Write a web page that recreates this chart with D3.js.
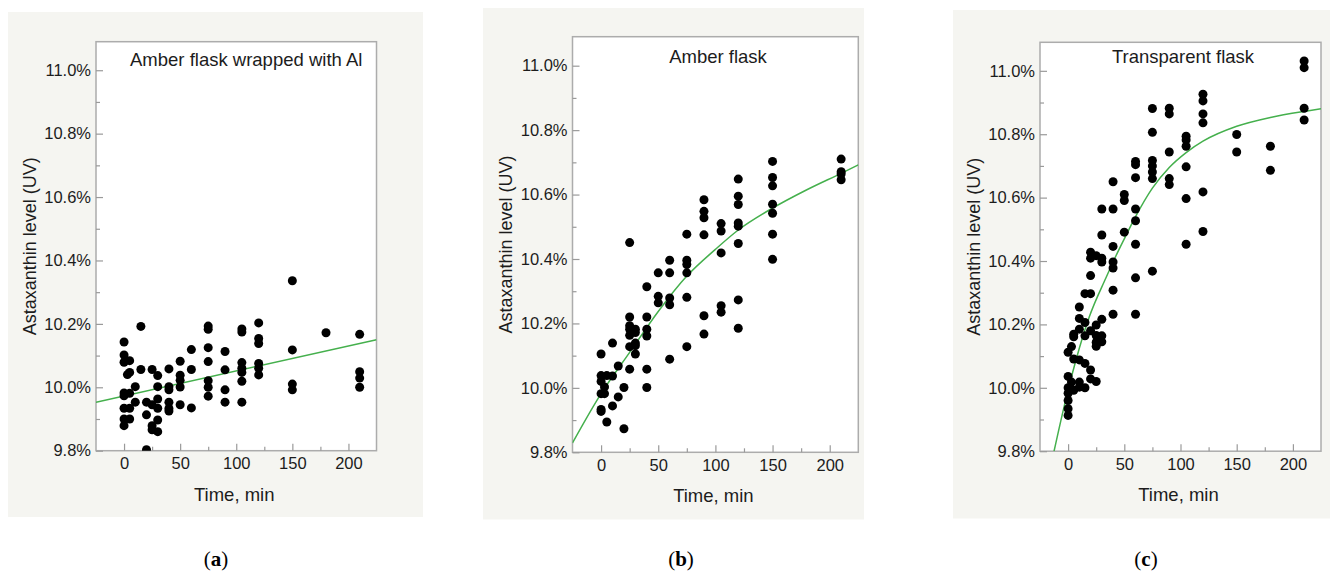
<!DOCTYPE html>
<html><head><meta charset="utf-8">
<script src="https://cdn.jsdelivr.net/npm/d3@7"></script>
<style>
body{margin:0;background:#fff}
svg{display:block}
text{font-family:"Liberation Sans",Arial,Helvetica,sans-serif}
</style>
</head><body>
<svg id="chart" width="1330" height="572"></svg>
<script>
// ---------- data ----------
const xTicks = [0, 50, 100, 150, 200];
const xMinorTicks = [25, 75, 125, 175];
const yTicks = [9.8, 10.0, 10.2, 10.4, 10.6, 10.8, 11.0];
const yMinorTicks = [9.9, 10.1, 10.3, 10.5, 10.7, 10.9];
const titles = ["Amber flask wrapped with Al", "Amber flask", "Transparent flask"];
const panelLetters = ["a", "b", "c"];
const xLabel = "Time, min";
const yLabel = "Astaxanthin level (UV)";

// [time (min), measured values (%)]
const dataA = [
  [0, [10.143, 10.102, 10.079, 9.982, 9.973, 9.934, 9.900, 9.879]],
  [3, [10.040]],
  [5, [10.084, 10.047, 9.981, 9.934, 9.900]],
  [10, [10.002, 9.953]],
  [15, [10.192, 10.056]],
  [20, [9.953, 9.913, 9.803]],
  [25, [10.056, 9.945, 9.879, 9.866]],
  [30, [10.037, 10.002, 9.963, 9.934, 9.897, 9.860]],
  [40, [10.058, 10.002, 9.992, 9.953, 9.933, 9.925]],
  [50, [10.082, 10.038, 10.022, 10.001, 9.945]],
  [60, [10.119, 10.056, 9.935]],
  [75, [10.193, 10.183, 10.125, 10.081, 10.021, 10.000, 9.972]],
  [90, [10.113, 10.055, 9.992, 9.953]],
  [105, [10.184, 10.174, 10.078, 10.060, 10.047, 10.019, 9.953]],
  [120, [10.203, 10.154, 10.138, 10.075, 10.060, 10.039]],
  [150, [10.336, 10.118, 10.010, 9.992]],
  [180, [10.172]],
  [210, [10.167, 10.049, 10.029, 10.000]]
];
const dataB = [
  [0, [10.105, 10.038, 10.020, 9.982, 9.933, 9.927]],
  [3, [10.003, 9.982]],
  [5, [10.038, 9.894]],
  [10, [10.139, 10.037, 9.944]],
  [15, [10.068, 9.972]],
  [20, [10.001, 9.873]],
  [25, [10.451, 10.220, 10.193, 10.182, 10.163, 10.128, 10.058]],
  [30, [10.182, 10.172, 10.139, 10.131, 10.105]],
  [40, [10.314, 10.220, 10.182, 10.161, 10.058, 10.001]],
  [50, [10.357, 10.284, 10.264]],
  [60, [10.396, 10.357, 10.279, 10.258, 10.089]],
  [75, [10.477, 10.396, 10.383, 10.357, 10.281, 10.128]],
  [90, [10.584, 10.548, 10.528, 10.475, 10.224, 10.167]],
  [105, [10.510, 10.487, 10.419, 10.255, 10.235]],
  [120, [10.648, 10.595, 10.569, 10.512, 10.502, 10.448, 10.273, 10.185]],
  [150, [10.703, 10.653, 10.627, 10.570, 10.542, 10.477, 10.399]],
  [210, [10.710, 10.671, 10.664, 10.646]]
];
const dataC = [
  [0, [10.112, 10.036, 10.000, 9.983, 9.960, 9.934, 9.913]],
  [3, [10.130, 10.018]],
  [5, [10.169, 10.161, 10.091, 9.992]],
  [10, [10.255, 10.219, 10.185, 10.088, 10.018, 10.002]],
  [15, [10.297, 10.206, 10.164, 10.077, 10.000]],
  [20, [10.428, 10.409, 10.354, 10.297, 10.180, 10.056, 10.028]],
  [25, [10.417, 10.198, 10.165, 10.144, 10.131, 10.020]],
  [30, [10.564, 10.482, 10.409, 10.397, 10.216, 10.164, 10.145]],
  [40, [10.650, 10.564, 10.446, 10.397, 10.378, 10.308, 10.232]],
  [50, [10.610, 10.591, 10.491]],
  [60, [10.714, 10.704, 10.663, 10.564, 10.527, 10.453, 10.347, 10.232]],
  [75, [10.881, 10.806, 10.717, 10.700, 10.681, 10.660, 10.368]],
  [90, [10.882, 10.864, 10.744, 10.660, 10.641]],
  [105, [10.794, 10.782, 10.762, 10.697, 10.597, 10.453]],
  [120, [10.926, 10.905, 10.864, 10.836, 10.618, 10.493]],
  [150, [10.799, 10.744]],
  [180, [10.762, 10.686]],
  [210, [11.031, 11.010, 10.882, 10.845]]
];

// fitted curves
const fitATime = [-25, 225];
const fitAValue = [9.953, 10.150];
const fitBTime = [-25, 0, 25, 50, 75, 100, 120, 150, 180, 210, 225];
const fitBValue = [9.829, 9.982, 10.110, 10.237, 10.347, 10.430, 10.490, 10.558, 10.615, 10.666, 10.692];
const fitCTime = [-12.5, -3.6, 6.9, 18.8, 33.7, 42.4, 50, 60, 75, 90, 105, 120, 150, 180, 210, 225];
const fitCValue = [9.80, 9.94, 10.086, 10.223, 10.347, 10.415, 10.47, 10.54, 10.63, 10.695, 10.742, 10.778, 10.825, 10.853, 10.872, 10.88];

// ---------- layout ----------
const panels = [
  {data: dataA, fitT: fitATime, fitV: fitAValue,
   bg: {x0: 8, y0: 12, x1: 423, y1: 517},
   plot: {l: 96, t: 41.7, r: 376.5, b: 450.7},
   title: {x: 130, y: 66, anchor: "start"}, letterX: 216},
  {data: dataB, fitT: fitBTime, fitV: fitBValue,
   bg: {x0: 483, y0: 8, x1: 864, y1: 519.5},
   plot: {l: 572.5, t: 36.7, r: 858.3, b: 452.3},
   title: {x: 718, y: 63.3, anchor: "middle"}, letterX: 681},
  {data: dataC, fitT: fitCTime, fitV: fitCValue,
   bg: {x0: 953, y0: 10, x1: 1330, y1: 518.5},
   plot: {l: 1040, t: 42.3, r: 1321, b: 451.2},
   title: {x: 1183, y: 62.7, anchor: "middle"}, letterX: 1146}
];

const svg = d3.select("#chart");
const tickColor = "#9a9a9a";
const textColor = "#1c1c1c";
const fitColor = "#45b04d";

panels.forEach((p, i) => {
  const g = svg.append("g");
  g.append("rect")
    .attr("x", p.bg.x0).attr("y", p.bg.y0)
    .attr("width", p.bg.x1 - p.bg.x0).attr("height", p.bg.y1 - p.bg.y0)
    .attr("fill", "#f5f5f1");

  const x = d3.scaleLinear().domain([-25, 225]).range([p.plot.l, p.plot.r]);
  const y = d3.scaleLinear().domain([9.8, 11.09]).range([p.plot.b, p.plot.t]);

  g.append("rect")
    .attr("x", p.plot.l).attr("y", p.plot.t)
    .attr("width", p.plot.r - p.plot.l).attr("height", p.plot.b - p.plot.t)
    .attr("fill", "#fff").attr("stroke", "#acacac").attr("stroke-width", 1.5);

  // axes
  const yAxis = g.append("g").attr("transform", `translate(${p.plot.l},0)`)
    .call(d3.axisLeft(y).tickValues(yTicks).tickSize(-7).tickPadding(5)
      .tickFormat(d => d3.format(".1f")(d) + "%"));
  const yMinor = g.append("g").attr("transform", `translate(${p.plot.l},0)`)
    .call(d3.axisLeft(y).tickValues(yMinorTicks).tickSize(-4).tickFormat(""));
  const xAxis = g.append("g").attr("transform", `translate(0,${p.plot.b})`)
    .call(d3.axisBottom(x).tickValues(xTicks).tickSize(-7).tickPadding(7));
  const xMinor = g.append("g").attr("transform", `translate(0,${p.plot.b})`)
    .call(d3.axisBottom(x).tickValues(xMinorTicks).tickSize(-4).tickFormat(""));
  [yAxis, yMinor, xAxis, xMinor].forEach(a => {
    a.select(".domain").remove();
    a.selectAll("line").attr("stroke", tickColor).attr("stroke-width", 1.2);
    a.selectAll("text").attr("fill", textColor).style("font-size", "16.5px")
      .style("font-family", '"Liberation Sans", Arial, sans-serif');
  });

  // fit curve (clipped to plot)
  const clipId = "clip" + i;
  svg.append("clipPath").attr("id", clipId).append("rect")
    .attr("x", p.plot.l).attr("y", p.plot.t)
    .attr("width", p.plot.r - p.plot.l).attr("height", p.plot.b - p.plot.t);
  const fitPts = p.fitT.map((t, k) => [t, p.fitV[k]]);
  g.append("path")
    .datum(fitPts)
    .attr("clip-path", `url(#${clipId})`)
    .attr("fill", "none").attr("stroke", fitColor).attr("stroke-width", 1.5)
    .attr("d", d3.line().x(d => x(d[0])).y(d => y(d[1])).curve(d3.curveMonotoneX));

  // points
  const pts = p.data.flatMap(([t, vals]) => vals.map(v => ({t, v})));
  g.append("g").attr("clip-path", `url(#${clipId})`)
    .selectAll("circle").data(pts).join("circle")
    .attr("cx", d => x(d.t)).attr("cy", d => y(d.v)).attr("r", 4.5).attr("fill", "#000");

  // title
  g.append("text").attr("x", p.title.x).attr("y", p.title.y)
    .attr("text-anchor", p.title.anchor).attr("fill", textColor)
    .style("font-size", "18.5px").text(titles[i]);

  // axis labels
  g.append("text")
    .attr("transform", `translate(${p.plot.l - 60.5},${(p.plot.t + p.plot.b) / 2}) rotate(-90)`)
    .attr("text-anchor", "middle").attr("fill", textColor)
    .style("font-size", "18px").text(yLabel);
  g.append("text")
    .attr("x", (p.plot.l + p.plot.r) / 2 - 2).attr("y", p.plot.b + 50)
    .attr("text-anchor", "middle").attr("fill", textColor)
    .style("font-size", "18.5px").text(xLabel);

  // panel letter
  const lt = svg.append("text").attr("x", p.letterX).attr("y", 566)
    .attr("text-anchor", "middle").attr("fill", "#000")
    .style("font-family", '"Liberation Serif", "DejaVu Serif", serif').style("font-size", "21px");
  lt.append("tspan").text("(");
  lt.append("tspan").attr("font-weight", "bold").text(panelLetters[i]);
  lt.append("tspan").text(")");
});
</script>
</body></html>
